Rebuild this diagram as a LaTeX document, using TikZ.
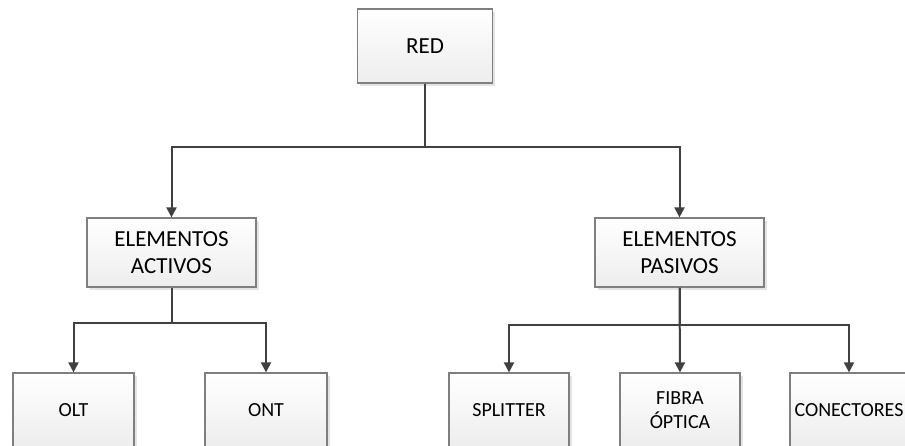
\documentclass[tikz,border=0pt]{standalone}
\usepackage{fontspec}
\setmainfont{Carlito}
\usetikzlibrary{arrows.meta,shadows}

\definecolor{ramal}{HTML}{404040}
\definecolor{borde}{HTML}{7F7F7F}

\begin{document}
\begin{tikzpicture}[x=1pt, y=-1pt,
    caja/.style={draw=borde, line width=1.2pt, shading=axis, top color=white, bottom color=gray!14,
        drop shadow={shadow xshift=2.5pt, shadow yshift=-2.5pt, fill=gray!35, opacity=0.6},
        align=center, inner sep=0pt, font=\fontsize{20}{24}\selectfont},
    grande/.style={caja, font=\fontsize{23}{27}\selectfont},
    ramal/.style={draw=ramal, line width=2pt, -{Triangle[width=10pt,length=10pt]}}]
            \useasboundingbox (0,0) rectangle (905,445);

            % nivel 1
            \node[grande, minimum width=135pt, minimum height=74pt] (red) at (425,46) {RED};

            % nivel 2
            \node[grande, minimum width=169pt, minimum height=69pt] (activos) at (171.5,252.5) {ELEMENTOS\\ACTIVOS};
            \node[grande, minimum width=169pt, minimum height=69pt] (pasivos) at (679.5,252.5) {ELEMENTOS\\PASIVOS};

            % nivel 3
            \node[caja, minimum width=121pt, minimum height=74pt] (olt) at (73.5,410) {OLT};
            \node[caja, minimum width=122pt, minimum height=74pt] (ont) at (266,410) {ONT};
            \node[caja, minimum width=120pt, minimum height=74pt] (splitter) at (509,410) {SPLITTER};
            \node[caja, minimum width=120pt, minimum height=74pt] (fibra) at (680,410) {FIBRA\\ÓPTICA};
            \node[caja, minimum width=118pt, minimum height=74pt] (conectores) at (849,410) {CONECTORES};

            % ramales
            \draw[ramal] (red.south) -- (red.south |- 0,146.5) -| (activos.north);
            \draw[ramal] (red.south) -- (red.south |- 0,146.5) -| (pasivos.north);
            \draw[ramal] (activos.south) -- (activos.south |- 0,322.5) -| (olt.north);
            \draw[ramal] (activos.south) -- (activos.south |- 0,322.5) -| (ont.north);
            \draw[ramal] (pasivos.south) -- (pasivos.south |- 0,324.5) -| (splitter.north);
            \draw[ramal] (pasivos.south) -- (fibra.north);
            \draw[ramal] (pasivos.south) -- (pasivos.south |- 0,324.5) -| (conectores.north);

\end{tikzpicture}
\end{document}
